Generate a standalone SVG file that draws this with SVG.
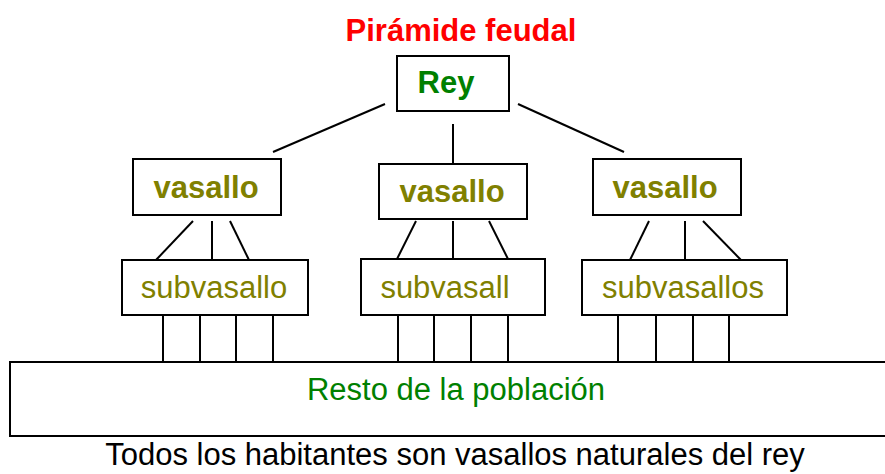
<svg xmlns="http://www.w3.org/2000/svg" width="885" height="474" viewBox="0 0 885 474">
<style>
.box{fill:#fff;stroke:#000;stroke-width:2}
.ln{stroke:#000;stroke-width:2;fill:none}
text{font-family:"Liberation Sans",Arial,sans-serif;text-anchor:middle;font-size:31px}
.b{font-weight:bold}
.red{fill:#ff0000}
.grn{fill:#008000}
.olv{fill:#808000}
.blk{fill:#000}
</style>
<rect width="885" height="474" fill="#fff"/>
<g id="connectors">
<line class="ln" x1="385" y1="104" x2="273" y2="152"/>
<line class="ln" x1="453" y1="124" x2="453" y2="163"/>
<line class="ln" x1="518" y1="104" x2="624" y2="152"/>
<line class="ln" x1="193" y1="221" x2="156" y2="260"/>
<line class="ln" x1="212" y1="221" x2="212" y2="260"/>
<line class="ln" x1="230" y1="221" x2="249" y2="260"/>
<line class="ln" x1="416" y1="221" x2="397" y2="259"/>
<line class="ln" x1="453" y1="221" x2="453" y2="259"/>
<line class="ln" x1="489" y1="221" x2="508" y2="259"/>
<line class="ln" x1="649" y1="221" x2="630" y2="260"/>
<line class="ln" x1="685" y1="221" x2="685" y2="260"/>
<line class="ln" x1="703" y1="221" x2="741" y2="260"/>
<line class="ln" x1="163" y1="315" x2="163" y2="362"/>
<line class="ln" x1="200" y1="315" x2="200" y2="362"/>
<line class="ln" x1="236" y1="315" x2="236" y2="362"/>
<line class="ln" x1="273" y1="315" x2="273" y2="362"/>
<line class="ln" x1="398" y1="315" x2="398" y2="362"/>
<line class="ln" x1="434" y1="315" x2="434" y2="362"/>
<line class="ln" x1="471" y1="315" x2="471" y2="362"/>
<line class="ln" x1="508" y1="315" x2="508" y2="362"/>
<line class="ln" x1="618" y1="315" x2="618" y2="362"/>
<line class="ln" x1="656" y1="315" x2="656" y2="362"/>
<line class="ln" x1="693" y1="315" x2="693" y2="362"/>
<line class="ln" x1="729" y1="315" x2="729" y2="362"/>
</g>
<g id="title"><text class="b red" x="461" y="41">Pirámide feudal</text></g>
<g id="rey"><rect class="box" x="397" y="56" width="112" height="55"/><text class="b grn" x="446" y="93">Rey</text></g>
<g id="vasallo1"><rect class="box" x="133" y="159" width="148" height="56"/><text class="b olv" x="206" y="198">vasallo</text></g>
<g id="vasallo2"><rect class="box" x="379" y="164" width="148" height="55"/><text class="b olv" x="452" y="202">vasallo</text></g>
<g id="vasallo3"><rect class="box" x="593" y="159" width="148" height="56"/><text class="b olv" x="665" y="198">vasallo</text></g>
<g id="subvasallo1"><rect class="box" x="122" y="260" width="186" height="55"/><text class="olv" x="214" y="298">subvasallo</text></g>
<g id="subvasallo2"><rect class="box" x="361" y="259" width="184" height="56"/><text class="olv" x="445" y="298">subvasall</text></g>
<g id="subvasallo3"><rect class="box" x="582" y="260" width="205" height="55"/><text class="olv" x="683" y="298">subvasallos</text></g>
<g id="poblacion"><rect class="box" x="10" y="362" width="890" height="74"/><text class="grn" x="456" y="400">Resto de la población</text></g>
<g id="nota"><text class="blk" x="455" y="465">Todos los habitantes son vasallos naturales del rey</text></g>
</svg>
